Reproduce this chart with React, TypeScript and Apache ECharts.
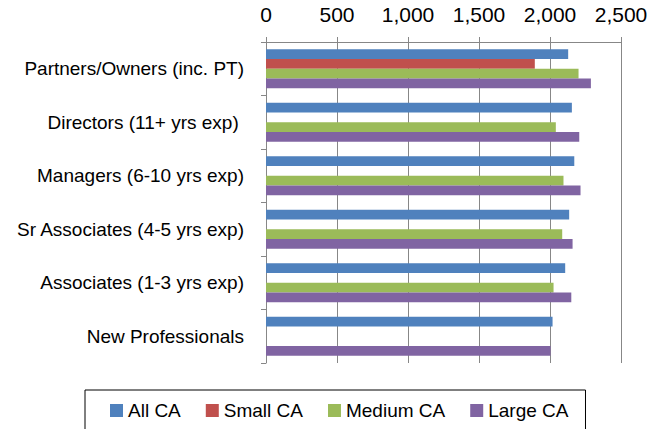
import React, { useEffect, useRef } from "react";
import * as echarts from "echarts";

const categories = [
  "Partners/Owners (inc. PT)",
  "Directors (11+ yrs exp) ",
  "Managers (6-10 yrs exp)",
  "Sr Associates (4-5 yrs exp)",
  "Associates (1-3 yrs exp)",
  "New Professionals",
];
const seriesNames = ["All CA", "Small CA", "Medium CA", "Large CA"];
const allCA = [2128, 2154, 2171, 2135, 2107, 2018];
const smallCA = [1893, null, null, null, null, null];
const mediumCA = [2201, 2041, 2095, 2086, 2025, null];
const largeCA = [2288, 2206, 2215, 2159, 2150, 2004];
const xTicks = { min: 0, max: 2500, interval: 500 };
const colors = ["#4F81BD", "#C0504D", "#9BBB59", "#8064A2"];

export default function App() {
  const ref = useRef<HTMLDivElement>(null);
  useEffect(() => {
    if (!ref.current) return;
    const chart = echarts.init(ref.current, null, { renderer: "svg" });
    const font = "'Liberation Sans', Arial, sans-serif";
    const values = [allCA, smallCA, mediumCA, largeCA];
    chart.setOption({
      animation: false,
      textStyle: { fontFamily: font },
      grid: { left: 266, right: 36, top: 42, bottom: 74 },
      xAxis: {
        type: "value",
        position: "top",
        min: xTicks.min,
        max: xTicks.max,
        interval: xTicks.interval,
        axisLine: { show: true, lineStyle: { color: "#878787", width: 1 } },
        axisTick: { show: true, inside: false, length: 5, lineStyle: { color: "#878787" } },
        axisLabel: {
          color: "#000",
          fontSize: 21,
          fontFamily: font,
          margin: 17,
          formatter: (v: number) => v.toLocaleString("en-US"),
        },
        splitLine: { show: true, lineStyle: { color: "#878787", width: 1 } },
      },
      yAxis: {
        type: "category",
        data: categories,
        inverse: true,
        axisLine: { show: true, lineStyle: { color: "#878787", width: 1 } },
        axisTick: { show: true, length: 5, lineStyle: { color: "#878787" } },
        axisLabel: { color: "#000", fontSize: 19, fontFamily: font, margin: 22 },
        splitLine: { show: false },
      },
      legend: {
        top: 390,
        left: 85,
        data: seriesNames,
        icon: "rect",
        itemWidth: 13,
        itemHeight: 13,
        itemGap: 25,
        borderColor: "#000",
        borderWidth: 1,
        borderRadius: 0,
        padding: [11, 17, 11, 25],
        textStyle: { color: "#000", fontSize: 19, fontFamily: font },
      },
      series: seriesNames.map((name, i) => ({
        name,
        type: "bar",
        data: values[i],
        barGap: "0%",
        barCategoryGap: "27%",
        itemStyle: { color: colors[i] },
      })),
    });
    return () => chart.dispose();
  }, []);
  return <div ref={ref} style={{ width: 657, height: 437, margin: -8 }} />;
}
